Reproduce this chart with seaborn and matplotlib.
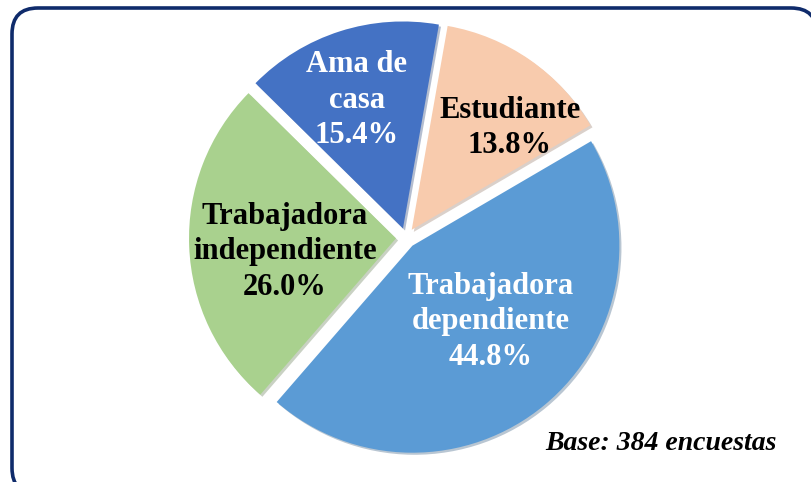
import matplotlib.pyplot as plt
import seaborn as sns
from matplotlib.patches import FancyBboxPatch

# Data
categories = ["Estudiante", "Trabajadora\ndependiente", "Trabajadora\nindependiente", "Ama de\ncasa"]
percentages = [13.8, 44.8, 26.0, 15.4]
slice_colors = ["#F8CBAD", "#5B9BD5", "#A9D18E", "#4472C4"]
text_colors = ["black", "white", "black", "white"]
base_note = "Base: 384 encuestas"

sns.set_theme(style="white")
plt.rcParams['font.family'] = ['Liberation Serif', 'DejaVu Serif']

W, H = 811, 482
fig = plt.figure(figsize=(W / 100, H / 100), dpi=100)
ax = fig.add_axes([0, 0, 1, 1])

# rounded frame
frame = FancyBboxPatch((12, -12), 805, 486, boxstyle="round,pad=0,rounding_size=26",
                       fc="white", ec="#0F2B6B", lw=2.6, zorder=0)
ax.add_patch(frame)

palette = sns.color_palette(slice_colors)
radius = 207
center = (406, H - 238)
# explode is in data units (pixels here), not a fraction of the radius
wedges, texts = ax.pie(percentages, colors=palette, startangle=80, counterclock=False,
                       explode=[10] * 4, radius=radius, center=center,
                       wedgeprops=dict(linewidth=0),
                       shadow={'ox': 1.5, 'oy': -1.5, 'shade': 0.4, 'alpha': 0.35},
                       frame=True)
ax.set_xlim(0, W)
ax.set_ylim(0, H)
ax.set_aspect('equal')
ax.axis('off')

# label positions (pixel coords from top-left)
label_pos = [(510, 128), (491, 322), (285, 252), (357, 100)]
for cat, pct, (x, y), c in zip(categories, percentages, label_pos, text_colors):
    ax.text(x, H - y, f"{cat}\n{pct:.1f}%", ha='center', va='center', fontsize=22,
            fontweight='bold', color=c, linespacing=1.3, zorder=5)

ax.text(777, H - 443, base_note, ha='right', va='center', fontsize=20,
        fontweight='bold', fontstyle='italic', color='black', zorder=5)

fig.savefig("out.png", dpi=100)
